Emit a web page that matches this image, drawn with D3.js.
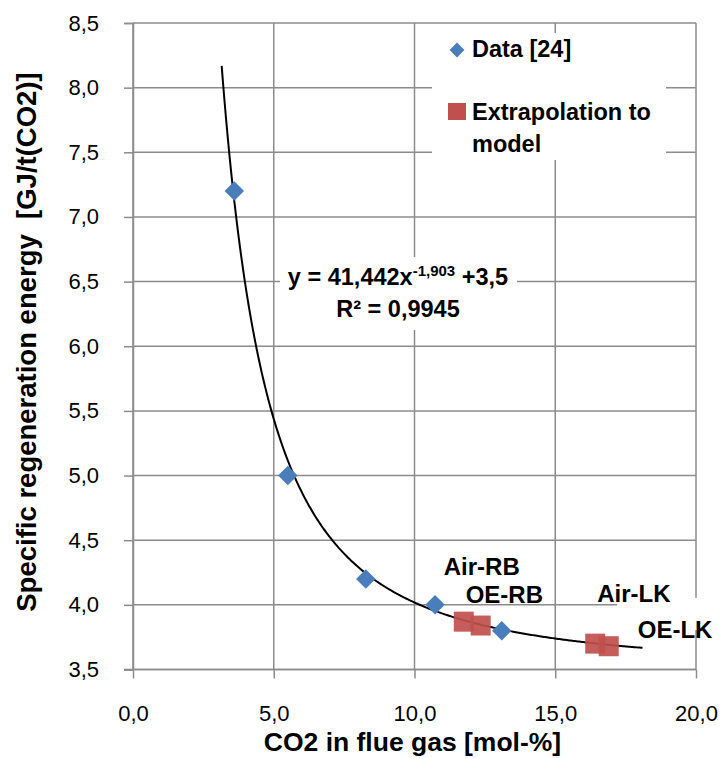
<!DOCTYPE html>
<html>
<head>
<meta charset="utf-8">
<script src="https://cdn.jsdelivr.net/npm/d3@7"></script>
<style>
  body { margin: 0; background: #fff; }
  text { font-family: "Liberation Sans", Arial, sans-serif; fill: #000; }
</style>
</head>
<body>
<script>
// measured data (Data [24])
const dataX = [3.6, 5.5, 8.27, 10.73, 13.1];
const dataY = [7.2, 5.0, 4.2, 4.0, 3.8];
// extrapolated points
const extraX = [11.75, 12.35, 16.42, 16.9];
const extraY = [3.87, 3.84, 3.70, 3.68];
const extraNames = ["Air-RB", "OE-RB", "Air-LK", "OE-LK"];
// power trendline shown on chart: y = a*x^b + c
const trendA = 41.442, trendB = -1.903, trendC = 3.5;
const trendFrom = 3.15, trendTo = 18.1;
const xTicks = [0, 5, 10, 15, 20];
const yTicks = [3.5, 4.0, 4.5, 5.0, 5.5, 6.0, 6.5, 7.0, 7.5, 8.0, 8.5];

const W = 721, H = 758;
const margin = {top: 23, right: 25, bottom: 88.5, left: 133};
const width = W - margin.left - margin.right,
      height = H - margin.top - margin.bottom;

const fmt = d3.formatLocale({decimal: ",", thousands: ".", grouping: [3], currency: ["", ""]}).format(".1f");

const x = d3.scaleLinear().domain([0, 20]).range([0, width]);
const y = d3.scaleLinear().domain([3.5, 8.5]).range([height, 0]);

const svg = d3.select("body").append("svg")
  .attr("width", W).attr("height", H);
const g = svg.append("g")
  .attr("transform", "translate(" + margin.left + "," + margin.top + ")");

const gridColor = "#8c8c8c";
const font = "'Liberation Sans', Arial, sans-serif";

// gridlines
g.append("g").selectAll("line").data(yTicks).enter().append("line")
  .attr("x1", 0).attr("x2", width)
  .attr("y1", d => y(d)).attr("y2", d => y(d))
  .attr("stroke", gridColor).attr("stroke-width", 1.5);
g.append("g").selectAll("line").data(xTicks).enter().append("line")
  .attr("x1", d => x(d)).attr("x2", d => x(d))
  .attr("y1", 0).attr("y2", height)
  .attr("stroke", gridColor).attr("stroke-width", 1.5);

// axes
const xAxis = d3.axisBottom(x).tickValues(xTicks).tickFormat(fmt).tickSize(9).tickPadding(27);
const yAxis = d3.axisLeft(y).tickValues(yTicks).tickFormat(fmt).tickSize(9).tickPadding(25);

const gx = g.append("g").attr("transform", "translate(0," + height + ")").call(xAxis);
const gy = g.append("g").call(yAxis);
[gx, gy].forEach(a => {
  a.select(".domain").attr("stroke", gridColor).attr("stroke-width", 1.5);
  a.selectAll(".tick line").attr("stroke", gridColor).attr("stroke-width", 1.5);
  a.selectAll(".tick text").style("font-family", font)
    .style("font-size", "22px").attr("fill", "#000");
});
gx.select(".domain").attr("d", "M-9,0H" + width);

// white boxes behind labels (they hide gridlines)
g.append("rect").attr("x", 432 - margin.left).attr("y", 33 - margin.top)
  .attr("width", 234).attr("height", 127).attr("fill", "#fff");
g.append("rect").attr("x", 280 - margin.left).attr("y", 257 - margin.top)
  .attr("width", 237).attr("height", 73).attr("fill", "#fff");
g.append("rect").attr("x", 617 - margin.left).attr("y", 598 - margin.top)
  .attr("width", 100).attr("height", 32).attr("fill", "#fff");

// trendline
const trendXs = d3.range(trendFrom, trendTo + 0.001, 0.05);
const line = d3.line().x(d => x(d)).y(d => y(trendA * Math.pow(d, trendB) + trendC));
g.append("path").datum(trendXs).attr("d", line)
  .attr("fill", "none").attr("stroke", "#000").attr("stroke-width", 2);

// diamonds
const diamond = d3.symbol().type(d3.symbolSquare).size(190);
g.selectAll(".dia").data(dataX).enter().append("path")
  .attr("class", "dia")
  .attr("d", diamond)
  .attr("transform", (d, i) => "translate(" + x(d) + "," + y(dataY[i]) + ") rotate(45)")
  .attr("fill", "#4a7ebb");

// squares
g.selectAll(".sq").data(extraX).enter().append("rect")
  .attr("class", "sq")
  .attr("x", d => x(d) - 10).attr("y", (d, i) => y(extraY[i]) - 10)
  .attr("width", 20).attr("height", 20)
  .attr("fill", "#c0504d").attr("opacity", 0.92);

// point labels
const labelOffsets = [[-20, -47], [-15, -23], [2, -42], [29, -8]];
g.selectAll(".plab").data(extraNames).enter().append("text")
  .attr("x", (d, i) => x(extraX[i]) + labelOffsets[i][0])
  .attr("y", (d, i) => y(extraY[i]) + labelOffsets[i][1])
  .style("font-size", "24px").style("font-weight", "bold")
  .text(d => d);

// equation
const eq = g.append("text").attr("x", 398 - margin.left).attr("y", 285 - margin.top)
  .attr("text-anchor", "middle").style("font-size", "23.5px").style("font-weight", "bold");
eq.append("tspan").text("y = " + String(trendA).replace(".", ",") + "x");
eq.append("tspan").attr("dy", -9).style("font-size", "15px").text(String(trendB).replace(".", ","));
eq.append("tspan").attr("dy", 9).text(" +" + String(trendC).replace(".", ","));
g.append("text").attr("x", 398 - margin.left).attr("y", 317 - margin.top)
  .attr("text-anchor", "middle").style("font-size", "23.5px").style("font-weight", "bold")
  .text("R² = 0,9945");

// legend
const lg = svg.append("g").style("font-size", "23.5px").style("font-weight", "bold");
lg.append("path").attr("d", d3.symbol().type(d3.symbolSquare).size(110))
  .attr("transform", "translate(457,50) rotate(45)").attr("fill", "#4a7ebb");
lg.append("text").attr("x", 472).attr("y", 57).text("Data [24]");
lg.append("rect").attr("x", 448).attr("y", 103).attr("width", 18).attr("height", 17).attr("fill", "#c0504d");
lg.append("text").attr("x", 472).attr("y", 120).text("Extrapolation to");
lg.append("text").attr("x", 472).attr("y", 152).text("model");

// axis titles
svg.append("text").attr("x", margin.left + width / 2 - 2).attr("y", 751)
  .attr("text-anchor", "middle").style("font-size", "26.5px").style("font-weight", "bold")
  .text("CO2 in flue gas [mol-%]");
svg.append("text").attr("transform", "translate(36,342) rotate(-90)")
  .attr("text-anchor", "middle").style("font-size", "27.5px").style("font-weight", "bold")
  .style("white-space", "pre")
  .text("Specific regeneration energy  [GJ/t(CO2)]");
</script>
</body>
</html>
